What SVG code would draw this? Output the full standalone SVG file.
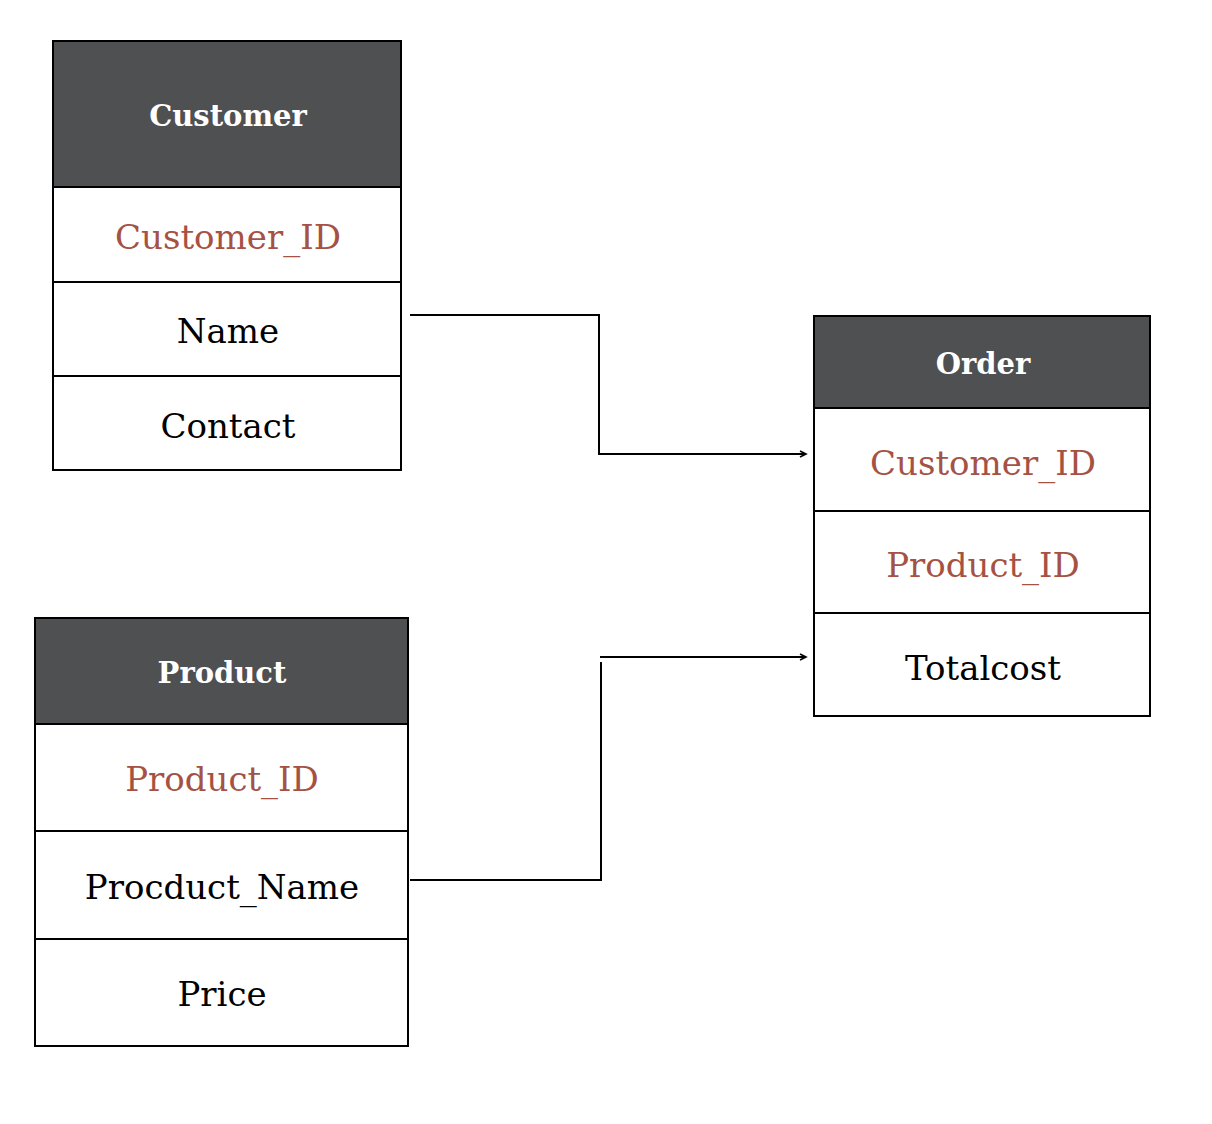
<svg xmlns="http://www.w3.org/2000/svg" width="1212" height="1124" viewBox="0 0 1212 1124">
<style>
.box{fill:#fff;stroke:#000;stroke-width:2}
.hdr{fill:#4f5052;stroke:#000;stroke-width:2}
.ht{font-family:"DejaVu Serif","Liberation Serif",serif;font-weight:bold;font-size:29px;fill:#fff;text-anchor:middle;dominant-baseline:central}
.t{font-family:"DejaVu Serif","Liberation Serif",serif;font-size:34px;fill:#000;text-anchor:middle;dominant-baseline:central}
.k{fill:#a55244}
.c{fill:none;stroke:#000;stroke-width:2}
</style>
<defs>
<marker id="ar" markerWidth="10" markerHeight="10" refX="7" refY="4" orient="auto" markerUnits="userSpaceOnUse">
<path d="M1,1 L7,4 L1,7" fill="none" stroke="#000" stroke-width="1.6"/>
</marker>
</defs>
<rect width="1212" height="1124" fill="#fff"/>
<g id="customer">
<rect class="hdr" x="53" y="41" width="348" height="146"/>
<rect class="box" x="53" y="187" width="348" height="95"/>
<rect class="box" x="53" y="282" width="348" height="94"/>
<rect class="box" x="53" y="376" width="348" height="94"/>
<text class="ht" x="228" y="116">Customer</text>
<text class="t k" x="228" y="237">Customer_ID</text>
<text class="t" x="228" y="331">Name</text>
<text class="t" x="228" y="426">Contact</text>
</g>
<g id="order">
<rect class="hdr" x="814" y="316" width="336" height="92"/>
<rect class="box" x="814" y="408" width="336" height="103"/>
<rect class="box" x="814" y="511" width="336" height="102"/>
<rect class="box" x="814" y="613" width="336" height="103"/>
<text class="ht" x="983" y="364">Order</text>
<text class="t k" x="983" y="463">Customer_ID</text>
<text class="t k" x="983" y="565">Product_ID</text>
<text class="t" x="983" y="668">Totalcost</text>
</g>
<g id="product">
<rect class="hdr" x="35" y="618" width="373" height="106"/>
<rect class="box" x="35" y="724" width="373" height="107"/>
<rect class="box" x="35" y="831" width="373" height="108"/>
<rect class="box" x="35" y="939" width="373" height="107"/>
<text class="ht" x="222" y="673">Product</text>
<text class="t k" x="222" y="779">Product_ID</text>
<text class="t" x="222" y="887">Procduct_Name</text>
<text class="t" x="222" y="994">Price</text>
</g>
<g id="connectors">
<polyline class="c" points="410,315 599,315 599,454 806,454" marker-end="url(#ar)"/>
<polyline class="c" points="410,880 601,880 601,662"/>
<polyline class="c" points="600,657 806,657" marker-end="url(#ar)"/>
</g>
</svg>
